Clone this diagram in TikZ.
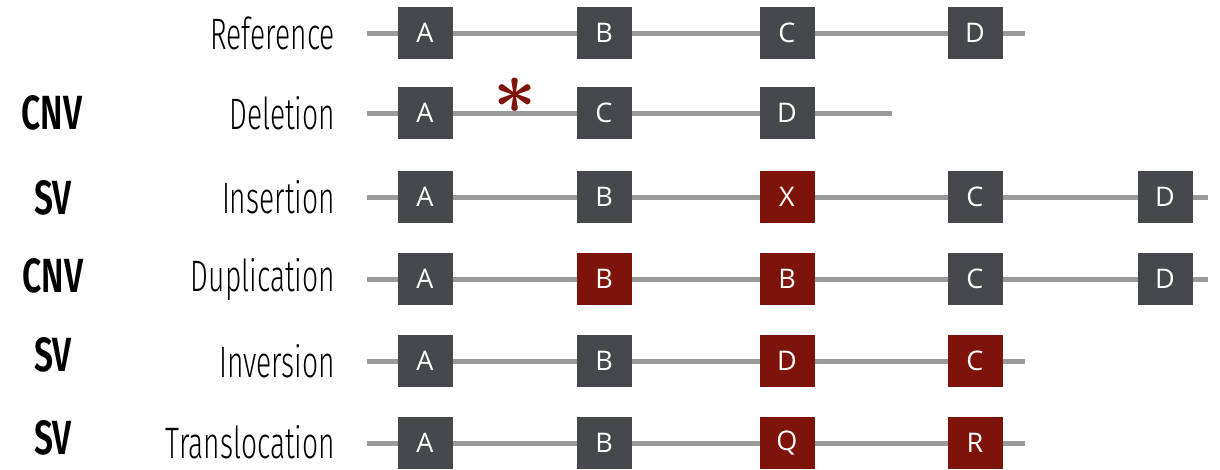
\documentclass[tikz,border=0pt]{standalone}
\usepackage{fontspec}
\setmainfont{Open Sans}
\newfontfamily\condfont{Fira Sans Light}[FakeStretch=0.64]
\newfontfamily\condbold{Fira Sans SemiBold}[FakeStretch=0.70]
\usetikzlibrary{backgrounds}
\definecolor{genegray}{HTML}{46484C}
\definecolor{mutred}{HTML}{7E1409}
\definecolor{trackgray}{HTML}{9A9A9A}
\tikzset{
  genebox/.style={inner sep=0pt, minimum width=55pt, minimum height=52pt, fill=genegray, text=white, font=\fontsize{27}{27}\selectfont},
  mutbox/.style={genebox, fill=mutred},
  track/.style={draw=trackgray, line width=5pt},
  rowlabel/.style={anchor=east, inner sep=0pt, font=\condfont\fontsize{44}{44}\selectfont},
  typelabel/.style={inner sep=0pt, font=\condbold\fontsize{48}{48}\selectfont},
  delmark/.style={text=mutred, inner sep=0pt}
}
\begin{document}
\begin{tikzpicture}[x=1pt,y=-1pt]
\useasboundingbox (0,0) rectangle (1220,469);

% Reference
\node[rowlabel] (L1) at (335,33) {Reference};
\coordinate (S1) at (367,33);
\node[genebox] (A1) at (425,33) {A};
\node[genebox] (B1) at (604,33) {B};
\node[genebox] (C1) at (787,33) {C};
\node[genebox] (D1) at (975,33) {D};
\coordinate (E1) at (1025,33);

% Deletion
\node[typelabel] (T2) at (52,113) {CNV};
\node[rowlabel] (L2) at (335,113) {Deletion};
\coordinate (S2) at (367,113);
\node[genebox] (A2) at (425,113) {A};
\node[genebox] (C2) at (604,113) {C};
\node[genebox] (D2) at (787,113) {D};
\coordinate (E2) at (892,113);
\node[delmark] (X2) at (515,96) {\scalebox{7.5}{\boldmath$\ast$}};

% Insertion
\node[typelabel] (T3) at (53,198) {SV};
\node[rowlabel] (L3) at (335,197) {Insertion};
\coordinate (S3) at (367,197);
\node[genebox] (A3) at (425,197) {A};
\node[genebox] (B3) at (604,197) {B};
\node[mutbox] (X3) at (787,197) {X};
\node[genebox] (C3) at (975,197) {C};
\node[genebox] (D3) at (1165,197) {D};
\coordinate (E3) at (1208,197);

% Duplication
\node[typelabel] (T4) at (53,276) {CNV};
\node[rowlabel] (L4) at (335,279) {Duplication};
\coordinate (S4) at (367,279);
\node[genebox] (A4) at (425,279) {A};
\node[mutbox] (B4) at (604,279) {B};
\node[mutbox] (BB4) at (787,279) {B};
\node[genebox] (C4) at (975,279) {C};
\node[genebox] (D4) at (1165,279) {D};
\coordinate (E4) at (1208,279);

% Inversion
\node[typelabel] (T5) at (53,355) {SV};
\node[rowlabel] (L5) at (335,361) {Inversion};
\coordinate (S5) at (367,361);
\node[genebox] (A5) at (425,361) {A};
\node[genebox] (B5) at (604,361) {B};
\node[mutbox] (D5) at (787,361) {D};
\node[mutbox] (C5) at (975,361) {C};
\coordinate (E5) at (1025,361);

% Translocation
\node[typelabel] (T6) at (53,438) {SV};
\node[rowlabel] (L6) at (335,442) {Translocation};
\coordinate (S6) at (367,443);
\node[genebox] (A6) at (425,443) {A};
\node[genebox] (B6) at (604,443) {B};
\node[mutbox] (Q6) at (787,443) {Q};
\node[mutbox] (R6) at (975,443) {R};
\coordinate (E6) at (1025,443);

\begin{scope}[on background layer]
\foreach \r in {1,...,6}
  \draw[track] (S\r) -- (E\r);
\end{scope}
\end{tikzpicture}
\end{document}
